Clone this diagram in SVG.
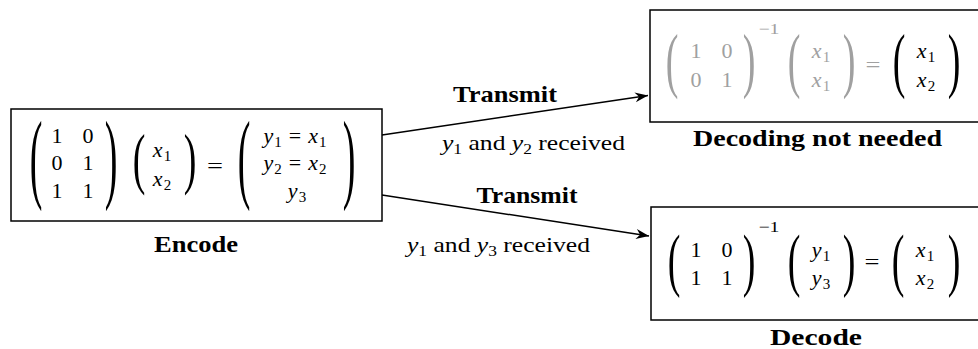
<svg xmlns="http://www.w3.org/2000/svg" width="978" height="349" viewBox="0 0 978 349">
<defs>
<style>
.box{fill:#fff;stroke:#000;stroke-width:1.5}
.m{font-size:22px;fill:#000;text-anchor:middle}
.g{fill:#a0a0a0}
.v{font-style:italic}
.s{font-size:15px}
.p{font-size:38px;text-anchor:middle}
.lb{font-size:23px;font-weight:bold;fill:#000;text-anchor:middle}
.lr{font-size:22px;fill:#000}
.c{stroke:#000;stroke-width:1.5;fill:none}
</style>
<marker id="ah" markerUnits="userSpaceOnUse" markerWidth="16" markerHeight="12" viewBox="-14 -6 16 12" refX="0" refY="0" orient="auto">
<path d="M0,0 L-13,-5 L-9,0 L-13,5 z" fill="#000"/>
</marker>
</defs>
<rect width="978" height="349" fill="#fff"/>

<g id="connectors">
<line class="c" x1="382" y1="135" x2="648" y2="95.5" marker-end="url(#ah)"/>
<line class="c" x1="382" y1="195" x2="649" y2="236" marker-end="url(#ah)"/>
<text font-family="Liberation Serif" class="lb" x="505" y="102" textLength="104" lengthAdjust="spacingAndGlyphs">Transmit</text>
<text font-family="Liberation Serif" class="lr" x="442" y="150" textLength="183" lengthAdjust="spacingAndGlyphs"><tspan class="v">y</tspan><tspan class="s" dy="4">1</tspan><tspan dy="-4"> and </tspan><tspan class="v">y</tspan><tspan class="s" dy="4">2</tspan><tspan dy="-4"> received</tspan></text>
<text font-family="Liberation Serif" class="lb" x="527" y="203" textLength="101" lengthAdjust="spacingAndGlyphs">Transmit</text>
<text font-family="Liberation Serif" class="lr" x="407" y="252" textLength="183" lengthAdjust="spacingAndGlyphs"><tspan class="v">y</tspan><tspan class="s" dy="4">1</tspan><tspan dy="-4"> and </tspan><tspan class="v">y</tspan><tspan class="s" dy="4">3</tspan><tspan dy="-4"> received</tspan></text>
</g>

<g id="encode">
<rect class="box" x="11" y="109" width="371" height="112"/>
<text font-family="Liberation Serif" class="p" transform="translate(36,189.6) scale(1,2.59)">(</text>
<text font-family="Liberation Serif" class="p" transform="translate(111,189.6) scale(1,2.59)">)</text>
<text font-family="Liberation Serif" class="m" x="57" y="143">1</text><text font-family="Liberation Serif" class="m" x="88" y="143">0</text>
<text font-family="Liberation Serif" class="m" x="57" y="170">0</text><text font-family="Liberation Serif" class="m" x="88" y="170">1</text>
<text font-family="Liberation Serif" class="m" x="57" y="198">1</text><text font-family="Liberation Serif" class="m" x="88" y="198">1</text>
<text font-family="Liberation Serif" class="p" transform="translate(139,181) scale(1,1.79)">(</text>
<text font-family="Liberation Serif" class="p" transform="translate(190,181) scale(1,1.79)">)</text>
<text font-family="Liberation Serif" class="m" x="162" y="157"><tspan class="v">x</tspan><tspan class="s" dx="1" dy="4">1</tspan></text>
<text font-family="Liberation Serif" class="m" x="162" y="186"><tspan class="v">x</tspan><tspan class="s" dx="1" dy="4">2</tspan></text>
<text font-family="Liberation Serif" class="m" x="215" y="173" textLength="16" lengthAdjust="spacingAndGlyphs">=</text>
<text font-family="Liberation Serif" class="p" transform="translate(244,189.6) scale(1,2.59)">(</text>
<text font-family="Liberation Serif" class="p" transform="translate(349,189.6) scale(1,2.59)">)</text>
<text font-family="Liberation Serif" class="m" x="295" y="143"><tspan class="v">y</tspan><tspan class="s" dx="1" dy="4">1</tspan><tspan dx="7" dy="-4">=</tspan><tspan class="v" dx="7">x</tspan><tspan class="s" dx="1" dy="4">1</tspan></text>
<text font-family="Liberation Serif" class="m" x="295" y="170"><tspan class="v">y</tspan><tspan class="s" dx="1" dy="4">2</tspan><tspan dx="7" dy="-4">=</tspan><tspan class="v" dx="7">x</tspan><tspan class="s" dx="1" dy="4">2</tspan></text>
<text font-family="Liberation Serif" class="m" x="297" y="198"><tspan class="v">y</tspan><tspan class="s" dx="1" dy="4">3</tspan></text>
<text font-family="Liberation Serif" class="lb" x="196" y="252" textLength="84" lengthAdjust="spacingAndGlyphs">Encode</text>
</g>

<g id="nodecode">
<rect class="box" x="650" y="10" width="340" height="112"/>
<text font-family="Liberation Serif" class="p g" transform="translate(672,84) scale(1,1.91)">(</text>
<text font-family="Liberation Serif" class="p g" transform="translate(749,84) scale(1,1.91)">)</text>
<text font-family="Liberation Serif" class="m g" x="696" y="58">1</text><text font-family="Liberation Serif" class="m g" x="727" y="58">0</text>
<text font-family="Liberation Serif" class="m g" x="696" y="87">0</text><text font-family="Liberation Serif" class="m g" x="727" y="87">1</text>
<text font-family="Liberation Serif" class="m g s" x="769" y="34" textLength="21" lengthAdjust="spacingAndGlyphs">−1</text>
<text font-family="Liberation Serif" class="p g" transform="translate(794,84) scale(1,1.91)">(</text>
<text font-family="Liberation Serif" class="p g" transform="translate(849,84) scale(1,1.91)">)</text>
<text font-family="Liberation Serif" class="m g" x="821" y="58"><tspan class="v">x</tspan><tspan class="s" dx="1" dy="4">1</tspan></text>
<text font-family="Liberation Serif" class="m g" x="821" y="87"><tspan class="v">x</tspan><tspan class="s" dx="1" dy="4">1</tspan></text>
<text font-family="Liberation Serif" class="m g" x="873" y="72" textLength="15" lengthAdjust="spacingAndGlyphs">=</text>
<text font-family="Liberation Serif" class="p" transform="translate(899,84) scale(1,1.91)">(</text>
<text font-family="Liberation Serif" class="p" transform="translate(954,84) scale(1,1.91)">)</text>
<text font-family="Liberation Serif" class="m" x="926" y="58"><tspan class="v">x</tspan><tspan class="s" dx="1" dy="4">1</tspan></text>
<text font-family="Liberation Serif" class="m" x="926" y="87"><tspan class="v">x</tspan><tspan class="s" dx="1" dy="4">2</tspan></text>
<text font-family="Liberation Serif" class="lb" x="817.5" y="146" textLength="249" lengthAdjust="spacingAndGlyphs">Decoding not needed</text>
</g>

<g id="decode">
<rect class="box" x="651" y="207" width="340" height="113"/>
<text font-family="Liberation Serif" class="p" transform="translate(674,282.5) scale(1,1.85)">(</text>
<text font-family="Liberation Serif" class="p" transform="translate(749,282.5) scale(1,1.85)">)</text>
<text font-family="Liberation Serif" class="m" x="696" y="257">1</text><text font-family="Liberation Serif" class="m" x="727" y="257">0</text>
<text font-family="Liberation Serif" class="m" x="696" y="285">1</text><text font-family="Liberation Serif" class="m" x="727" y="285">1</text>
<text font-family="Liberation Serif" class="m s" x="769" y="232" textLength="21" lengthAdjust="spacingAndGlyphs">−1</text>
<text font-family="Liberation Serif" class="p" transform="translate(794,282.5) scale(1,1.85)">(</text>
<text font-family="Liberation Serif" class="p" transform="translate(849,282.5) scale(1,1.85)">)</text>
<text font-family="Liberation Serif" class="m" x="821" y="257"><tspan class="v">y</tspan><tspan class="s" dx="1" dy="4">1</tspan></text>
<text font-family="Liberation Serif" class="m" x="821" y="285"><tspan class="v">y</tspan><tspan class="s" dx="1" dy="4">3</tspan></text>
<text font-family="Liberation Serif" class="m" x="872" y="269" textLength="15" lengthAdjust="spacingAndGlyphs">=</text>
<text font-family="Liberation Serif" class="p" transform="translate(898,282.5) scale(1,1.85)">(</text>
<text font-family="Liberation Serif" class="p" transform="translate(954,282.5) scale(1,1.85)">)</text>
<text font-family="Liberation Serif" class="m" x="925" y="257"><tspan class="v">x</tspan><tspan class="s" dx="1" dy="4">1</tspan></text>
<text font-family="Liberation Serif" class="m" x="925" y="285"><tspan class="v">x</tspan><tspan class="s" dx="1" dy="4">2</tspan></text>
<text font-family="Liberation Serif" class="lb" x="816" y="345" textLength="92" lengthAdjust="spacingAndGlyphs">Decode</text>
</g>
</svg>
